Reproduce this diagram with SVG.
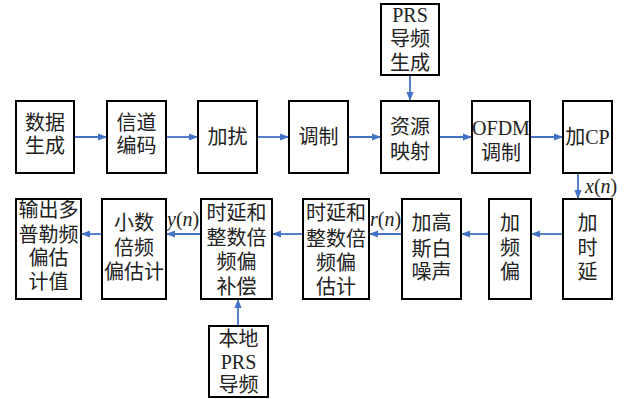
<svg xmlns="http://www.w3.org/2000/svg" width="625" height="399" viewBox="0 0 625 399">
<style>
.b{fill:#fff;stroke:#000;stroke-width:2}
.t{font-family:"Liberation Serif","Noto Sans CJK SC",serif;font-size:20px;fill:#222;text-anchor:middle}
.c{stroke:#4472C4;stroke-width:1.8;fill:none;marker-end:url(#ah)}
.l{font-family:"Liberation Serif",serif;font-size:20px;fill:#222}
</style>
<defs>
<marker id="ah" viewBox="0 0 10 8" refX="10" refY="4" markerWidth="9" markerHeight="7.5" markerUnits="userSpaceOnUse" orient="auto">
<path d="M0,0 L10,4 L0,8 z" fill="#4472C4"/>
</marker>
</defs>
<rect width="625" height="399" fill="#fff"/>
<g id="connectors">
<path class="c" d="M74,137H107"/>
<path class="c" d="M166,137H198"/>
<path class="c" d="M257,137H289"/>
<path class="c" d="M348,137H381"/>
<path class="c" d="M439,137H472"/>
<path class="c" d="M530,137H563"/>
<path class="c" d="M410,75V101"/>
<path class="c" d="M578,173V199"/>
<path class="c" d="M563,234H531"/>
<path class="c" d="M489,234H461"/>
<path class="c" d="M402,234H369"/>
<path class="c" d="M303,234H272"/>
<path class="c" d="M201,234H166"/>
<path class="c" d="M102,234H81"/>
<path class="c" d="M238,326V299"/>
<text class="l" x="585" y="193"><tspan font-style="italic">x</tspan>(<tspan font-style="italic">n</tspan>)</text>
<text class="l" x="167" y="226"><tspan font-style="italic">y</tspan>(<tspan font-style="italic">n</tspan>)</text>
<text class="l" x="370" y="226"><tspan font-style="italic">r</tspan>(<tspan font-style="italic">n</tspan>)</text>
</g>
<g id="n1"><rect class="b" x="16" y="101" width="58" height="72"/><text class="t" x="45" y="130">数据</text><text class="t" x="45" y="153">生成</text></g>
<g id="n2"><rect class="b" x="107" y="101" width="59" height="72"/><text class="t" x="136.5" y="130">信道</text><text class="t" x="136.5" y="153">编码</text></g>
<g id="n3"><rect class="b" x="198" y="101" width="59" height="72"/><text class="t" x="227.5" y="144">加扰</text></g>
<g id="n4"><rect class="b" x="289" y="101" width="59" height="72"/><text class="t" x="318.5" y="144">调制</text></g>
<g id="n5"><rect class="b" x="381" y="101" width="58" height="72"/><text class="t" x="410" y="134">资源</text><text class="t" x="410" y="159">映射</text></g>
<g id="n6"><rect class="b" x="381" y="4" width="58" height="71"/><text class="t" x="410" y="22">PRS</text><text class="t" x="410" y="46">导频</text><text class="t" x="410" y="70">生成</text></g>
<g id="n7"><rect class="b" x="472" y="101" width="58" height="72"/><text class="t" x="501" y="135">OFDM</text><text class="t" x="501" y="160">调制</text></g>
<g id="n8"><rect class="b" x="563" y="101" width="49" height="72"/><text class="t" x="587.5" y="144">加CP</text></g>
<g id="n9"><rect class="b" x="563" y="199" width="49" height="100"/><text class="t" x="587.5" y="230">加</text><text class="t" x="587.5" y="255">时</text><text class="t" x="587.5" y="279">延</text></g>
<g id="n10"><rect class="b" x="489" y="199" width="42" height="100"/><text class="t" x="510" y="230">加</text><text class="t" x="510" y="255">频</text><text class="t" x="510" y="279">偏</text></g>
<g id="n11"><rect class="b" x="402" y="199" width="59" height="100"/><text class="t" x="431.5" y="230">加高</text><text class="t" x="431.5" y="256">斯白</text><text class="t" x="431.5" y="279">噪声</text></g>
<g id="n12"><rect class="b" x="303" y="199" width="66" height="100"/><text class="t" x="336" y="220">时延和</text><text class="t" x="336" y="246">整数倍</text><text class="t" x="336" y="270">频偏</text><text class="t" x="336" y="294">估计</text></g>
<g id="n13"><rect class="b" x="201" y="199" width="71" height="100"/><text class="t" x="236.5" y="220">时延和</text><text class="t" x="236.5" y="245">整数倍</text><text class="t" x="236.5" y="269">频偏</text><text class="t" x="236.5" y="294">补偿</text></g>
<g id="n14"><rect class="b" x="209" y="326" width="59" height="71"/><text class="t" x="238.5" y="346">本地</text><text class="t" x="238.5" y="369">PRS</text><text class="t" x="238.5" y="392">导频</text></g>
<g id="n15"><rect class="b" x="102" y="199" width="64" height="100"/><text class="t" x="134" y="230">小数</text><text class="t" x="134" y="255">倍频</text><text class="t" x="134" y="279">偏估计</text></g>
<g id="n16"><rect class="b" x="16" y="199" width="65" height="100"/><text class="t" x="48.5" y="217">输出多</text><text class="t" x="48.5" y="242">普勒频</text><text class="t" x="48.5" y="265">偏估</text><text class="t" x="48.5" y="289">计值</text></g>
</svg>
